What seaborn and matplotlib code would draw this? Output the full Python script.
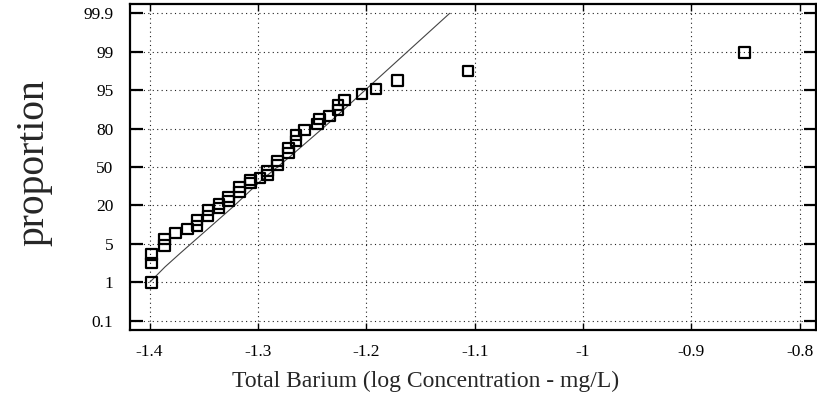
import numpy as np
import pandas as pd
import matplotlib
matplotlib.use("Agg")
import matplotlib.pyplot as plt
import seaborn as sns

# probability axis: labels are equally spaced on the chart
prob_ticks = [0.1, 1, 5, 20, 50, 80, 95, 99, 99.9]
prob_labels = ["0.1", "1", "5", "20", "50", "80", "95", "99", "99.9"]
x_ticks = [-1.4, -1.3, -1.2, -1.1, -1.0, -0.9, -0.8]
x_labels = ["-1.4", "-1.3", "-1.2", "-1.1", "-1", "-0.9", "-0.8"]

# observed values (log concentration) and their plotting proportions (%)
log_conc = [-1.398, -1.398, -1.398, -1.386, -1.386, -1.376, -1.365, -1.356,
            -1.356, -1.346, -1.346, -1.336, -1.336, -1.327, -1.327, -1.317,
            -1.317, -1.307, -1.307, -1.298, -1.291, -1.291, -1.282, -1.282,
            -1.272, -1.272, -1.265, -1.265, -1.257, -1.245, -1.243, -1.234,
            -1.226, -1.226, -1.220, -1.204, -1.191, -1.171, -1.106, -0.851]
proportion = [1.0, 3.0, 3.9, 4.8, 6.9, 9.2, 10.8, 12.0,
              14.3, 15.9, 18.2, 19.0, 21.1, 23.5, 26.6, 30.5,
              34.4, 37.5, 39.8, 41.4, 43.7, 46.9, 51.5, 54.7,
              60.9, 64.8, 70.3, 75.0, 78.9, 81.8, 83.7, 84.9,
              87.2, 89.2, 91.1, 93.5, 95.1, 96.0, 97.0, 98.9]

# fitted reference line
fit_x = [-1.3995, -1.3857, -1.3719, -1.3228, -1.2966, -1.2705, -1.2367, -1.2245, -1.1230]
fit_p = [1.03, 2.6, 4.0, 19.5, 39.8, 58.0, 81.4, 86.0, 99.9]

idx = np.arange(len(prob_ticks), dtype=float)
tk = np.array(prob_ticks, dtype=float)


def fwd(p):
    p = np.asarray(p, dtype=float)
    u = np.interp(p, tk, idx)
    u = np.where(p < tk[0], (p - tk[0]) / (tk[1] - tk[0]), u)
    u = np.where(p > tk[-1], idx[-1] + (p - tk[-1]) / (tk[-1] - tk[-2]), u)
    return u


def inv(u):
    u = np.asarray(u, dtype=float)
    p = np.interp(u, idx, tk)
    p = np.where(u < 0, tk[0] + u * (tk[1] - tk[0]), p)
    p = np.where(u > idx[-1], tk[-1] + (u - idx[-1]) * (tk[-1] - tk[-2]), p)
    return p


df = pd.DataFrame({"x": log_conc, "p": proportion})
fit = pd.DataFrame({"x": fit_x, "p": fit_p})

sns.set_style("white")
plt.rcParams["font.family"] = ["Liberation Serif", "DejaVu Serif"]

fig = plt.figure(figsize=(8.17, 4.08), dpi=100)
ax = fig.add_axes([130 / 817, 78 / 408, 686 / 817, 326 / 408])

sns.lineplot(data=fit, x="x", y="p", sort=False, estimator=None,
             color="#444444", linewidth=0.8, ax=ax)
sns.scatterplot(data=df, x="x", y="p", marker="s", s=58,
                facecolor="none", edgecolor="black", linewidth=1.6,
                ax=ax, zorder=3)

ax.set_yscale("function", functions=(fwd, inv))
ax.set_ylim(inv(-0.242), inv(8.242))
ax.set_xlim(-1.418, -0.785)

ax.set_yticks(prob_ticks)
ax.set_yticklabels(prob_labels)
ax.set_xticks(x_ticks)
ax.set_xticklabels(x_labels)
ax.minorticks_off()

ax.grid(True, linestyle=(0, (1, 3)), color="#222222", linewidth=0.8)
for s in ax.spines.values():
    s.set_linewidth(1.6)
    s.set_color("black")

ax.tick_params(axis="y", direction="in", length=9, width=1.6, labelsize=12.5,
               pad=12, left=True, right=True, colors="black")
ax.tick_params(axis="x", direction="in", length=5, width=1.0, labelsize=12.5,
               pad=10, bottom=True, top=True, colors="black")

ax.set_xlabel("Total Barium (log Concentration - mg/L)", fontsize=17)
ax.set_ylabel("proportion", fontsize=28.5)
ax.xaxis.set_label_coords(0.431, -0.125)
ax.yaxis.set_label_coords(-0.113, 0.515)

fig.savefig("out.png", dpi=100)
